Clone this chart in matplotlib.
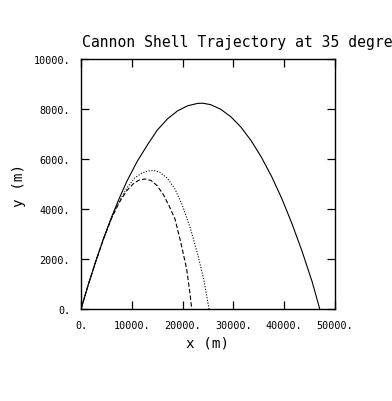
import matplotlib
matplotlib.use("Agg")
import matplotlib.pyplot as plt

# vacuum trajectory (solid)
x_vac = [0, 1500, 3000, 4500, 6000, 7500, 9000, 11000, 13000, 15000, 17000,
         19000, 21000, 23000, 24000, 25500, 27500, 29500, 31500, 33500, 35500,
         37500, 39500, 41500, 43500, 45500, 47000]
y_vac = [0, 1017, 1967, 2850, 3666, 4414, 5096, 5882, 6540, 7153, 7600,
         7925, 8130, 8225, 8230, 8175, 7990, 7690, 7270, 6730, 6075,
         5310, 4430, 3430, 2320, 1090, 0]

# drag trajectory 1 (dotted)
x_dot = [0, 1500, 3000, 4500, 6000, 7500, 9000, 10500, 12000, 13200, 14300,
         15500, 17000, 18500, 20000, 21500, 23000, 24200, 25200]
y_dot = [0, 1015, 1965, 2845, 3640, 4300, 4830, 5230, 5440, 5520, 5540,
         5470, 5230, 4800, 4120, 3250, 2170, 1150, 0]

# drag trajectory 2 (dashed)
x_dash = [0, 1500, 3000, 4500, 6000, 7500, 9000, 10500, 11500, 12600, 13800,
          15000, 16200, 17400, 18500, 19600, 20800, 21400, 21800]
y_dash = [0, 1015, 1960, 2835, 3620, 4250, 4730, 5050, 5160, 5200, 5140,
          4930, 4580, 4100, 3600, 2700, 1600, 700, 0]

x_ticks = [0, 10000, 20000, 30000, 40000, 50000]
y_ticks = [0, 2000, 4000, 6000, 8000, 10000]

mono = "DejaVu Sans Mono"

fig = plt.figure(figsize=(3.92, 4.02), dpi=100)
ax = fig.add_axes([81 / 392, 1 - 310 / 402, 254 / 392, 250 / 402])

ax.plot(x_vac, y_vac, color="black", lw=0.8)
ax.plot(x_dot, y_dot, color="black", lw=0.8, linestyle=(0, (1, 1.5)))
ax.plot(x_dash, y_dash, color="black", lw=0.8, linestyle=(0, (4, 2)))

ax.set_xlim(0, 50000)
ax.set_ylim(0, 10000)
ax.set_xticks(x_ticks)
ax.set_yticks(y_ticks)
ax.set_xticklabels([f"{t}." for t in x_ticks], family=mono, fontsize=7.3)
ax.set_yticklabels([f"{t}." for t in y_ticks], family=mono, fontsize=7.3)
ax.tick_params(direction="in", length=6, width=0.9, top=True, right=True,
               pad=7.8, colors="black")
for s in ax.spines.values():
    s.set_linewidth(1.0)

ax.set_xlabel("x (m)", family=mono, fontsize=10.3)
ax.set_ylabel("y (m)", family=mono, fontsize=10.3)
ax.xaxis.set_label_coords(0.5, -34 / 250)
ax.xaxis.label.set_va("center")
ax.yaxis.set_label_coords(-62 / 254, 0.5)
ax.yaxis.label.set_va("center")

# title runs off the right edge, as in the original
fig.text(82 / 392, 1 - 42.5 / 402, "Cannon Shell Trajectory at 35 degrees",
         family=mono, fontsize=10.6, ha="left", va="center")

fig.savefig("out.png", dpi=100)
